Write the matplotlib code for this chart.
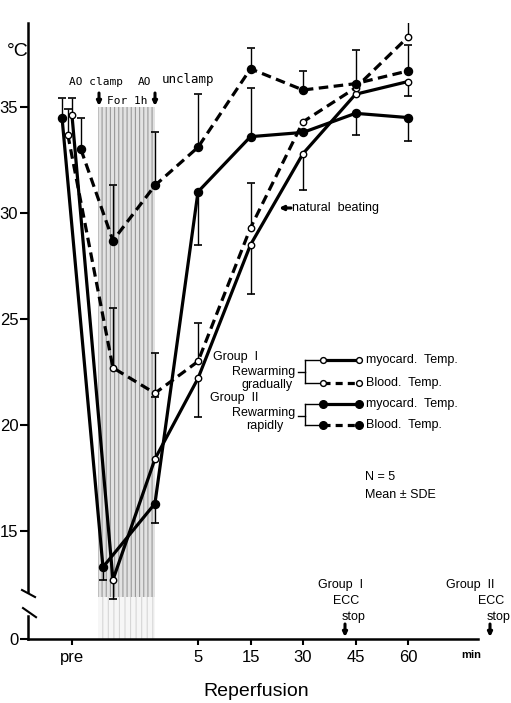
import matplotlib.pyplot as plt
import numpy as np
from matplotlib.lines import Line2D
from matplotlib.patches import Rectangle

W, H = 511, 703
plt.rcParams['font.family'] = ['Liberation Sans', 'DejaVu Sans']
plt.rcParams['hatch.linewidth'] = 0.8

# time points: pre, clamp (mid), clamp (end), then reperfusion 5..60 min
x_pos = np.array([0.6, 1.38, 2.18, 3, 4, 5, 6, 7])
tick_pos = [0.6, 3, 4, 5, 6, 7]
tick_labels = ['pre', '5', '15', '30', '45', '60']

# temperatures (°C)
g1_myo = [34.6, 12.7, 18.4, 22.2, 28.5, 32.8, 35.6, 36.2]
g1_blood = [33.7, 22.7, 21.5, 23.0, 29.3, 34.3, 35.9, 38.3]
g2_myo = [34.5, 13.3, 16.3, 31.0, 33.6, 33.8, 34.7, 34.5]
g2_blood = [33.0, 28.7, 31.3, 33.1, 36.8, 35.8, 36.1, 36.7]

# SDE, only one side drawn per point
g1_myo_up = [0.8, 0, 2.9, 0, 0, 0, 0, 0]
g1_myo_dn = [0, 0.9, 0, 1.8, 2.3, 1.7, 0, 0.7]
g1_blood_up = [1.2, 2.8, 1.9, 1.8, 2.1, 0, 0, 1.2]
g1_blood_dn = [0, 0, 0, 0, 0, 0, 0, 0]
g2_myo_up = [0.9, 0, 0, 0, 2.3, 0, 0, 0]
g2_myo_dn = [0, 0.6, 0.9, 2.5, 0, 0, 1.0, 1.1]
g2_blood_up = [1.5, 2.6, 2.5, 2.5, 1.0, 0.9, 1.6, 1.2]
g2_blood_dn = [0, 0, 0, 0, 0, 0, 0, 0]

# axis layout
y_zero = 9.91      # where the broken axis shows 0
y_top = 38.96


def fx(px):
    return px / W


def fy(py):
    return 1 - py / H


fig = plt.figure(figsize=(W / 100, H / 100), dpi=100)
ax = fig.add_axes([fx(28), fy(639), 450 / W, 616 / H])
ax.set_xlim(-0.238, 8.333)
ax.set_ylim(y_zero, y_top)

# clamp period shading
plt.rcParams['hatch.color'] = '#d6d6d6'
ax.add_patch(Rectangle((1.1, y_zero), 1.08, 11.9 - y_zero, facecolor='#f6f6f6',
                       hatch='|||', lw=0, zorder=0))
plt.rcParams['hatch.color'] = '#9a9a9a'
ax.add_patch(Rectangle((1.1, 11.9), 1.08, 35 - 11.9, facecolor='#e2e2e2',
                       hatch='||||', lw=0, zorder=0))

series = [
    (g1_myo, g1_myo_up, g1_myo_dn, 'white', '-', [0, 0, 0, 0, 0, 0, 0, 0]),
    (g1_blood, g1_blood_up, g1_blood_dn, 'white', '--', [-0.08, 0, 0, 0, 0, 0, 0, 0]),
    (g2_myo, g2_myo_up, g2_myo_dn, 'black', '-', [-0.19, -0.19, 0, 0, 0, 0, 0, 0]),
    (g2_blood, g2_blood_up, g2_blood_dn, 'black', '--', [0.17, 0, 0, 0, 0, 0, 0, 0]),
]

for vals, up, dn, face, ls, shift in series:
    xs = x_pos + np.array(shift)
    vals = np.array(vals)
    up = np.array(up)
    dn = np.array(dn)
    m = up > 0
    ax.vlines(xs[m], vals[m], vals[m] + up[m], color='k', lw=1.0, zorder=2)
    ax.plot(xs[m], vals[m] + up[m], ls='none', marker='_', ms=6, mew=1.2, color='k', zorder=2)
    m = dn > 0
    ax.vlines(xs[m], vals[m] - dn[m], vals[m], color='k', lw=1.0, zorder=2)
    ax.plot(xs[m], vals[m] - dn[m], ls='none', marker='_', ms=6, mew=1.2, color='k', zorder=2)
    line, = ax.plot(xs, vals, color='k', lw=2.3, ls=ls, zorder=3)
    if ls == '--':
        line.set_dashes((3, 1.7))
    ms = 4.6 if face == 'white' else 5.8
    ax.plot(xs, vals, ls='none', marker='o', ms=ms, mfc=face, mec='k', mew=1.0, zorder=4)

# axes
for s in ['top', 'right', 'left']:
    ax.spines[s].set_visible(False)
ax.spines['bottom'].set_linewidth(1.8)
ax.set_yticks([y_zero, 15, 20, 25, 30, 35], ['0', '15', '20', '25', '30', '35'])
ax.set_xticks(tick_pos, tick_labels)
ax.tick_params(axis='y', length=6, width=1.5, direction='out', pad=1, labelsize=12)
ax.tick_params(axis='x', length=4, width=1.5, direction='out', pad=4, labelsize=12)

# broken y axis
yt = ax.get_yaxis_transform()
ax.plot([0, 0], [12.12, y_top], color='k', lw=1.8, transform=yt, clip_on=False)
ax.plot([0, 0], [y_zero, 10.99], color='k', lw=1.8, transform=yt, clip_on=False)
ax.plot([-0.0133, 0.0156], [12.22, 11.89], color='k', lw=1.5, transform=yt, clip_on=False)
ax.plot([-0.0111, 0.0178], [11.37, 10.94], color='k', lw=1.5, transform=yt, clip_on=False)

# labels
fig.text(fx(18), fy(52), '°C', fontsize=14, ha='center', va='center')
fig.text(fx(471), fy(655), 'min', fontsize=8, ha='center', va='center', weight='bold')
fig.text(fx(256), fy(692), 'Reperfusion', fontsize=14, ha='center', va='center')

mono = 'DejaVu Sans Mono'
fig.text(fx(96), fy(82), 'AO clamp', family=mono, fontsize=8, ha='center', va='center')
fig.text(fx(145), fy(82), 'AO', family=mono, fontsize=8, ha='center', va='center')
fig.text(fx(188), fy(79), 'unclamp', family=mono, fontsize=9, ha='center', va='center')
fig.text(fx(127), fy(101), 'For 1h', family=mono, fontsize=8, ha='center', va='center')

arrow = dict(arrowstyle='-|>', color='k', lw=2.2, mutation_scale=6, shrinkA=0, shrinkB=0)
for x0 in [99, 155]:
    ax.annotate('', xy=(fx(x0), fy(106)), xytext=(fx(x0), fy(93)),
                xycoords='figure fraction', arrowprops=arrow)
for x0 in [345, 490]:
    ax.annotate('', xy=(fx(x0), fy(637)), xytext=(fx(x0), fy(624)),
                xycoords='figure fraction', arrowprops=arrow)
ax.annotate('', xy=(fx(279), fy(208)), xytext=(fx(291), fy(208)),
            xycoords='figure fraction', arrowprops=arrow)
fig.text(fx(292), fy(208), 'natural  beating', fontsize=9, ha='left', va='center')

fig.text(fx(340), fy(585), 'Group  I', fontsize=9, ha='center', va='center')
fig.text(fx(346), fy(601), 'ECC', fontsize=9, ha='center', va='center')
fig.text(fx(354), fy(617), 'stop', fontsize=9, ha='center', va='center')
fig.text(fx(470), fy(585), 'Group  II', fontsize=9, ha='center', va='center')
fig.text(fx(491), fy(601), 'ECC', fontsize=9, ha='center', va='center')
fig.text(fx(499), fy(617), 'stop', fontsize=9, ha='center', va='center')

fig.text(fx(365), fy(477), 'N = 5', fontsize=9, ha='left', va='center')
fig.text(fx(365), fy(495), 'Mean ± SDE', fontsize=9, ha='left', va='center')

# legend with brackets
fig.text(fx(213), fy(357), 'Group  I', fontsize=9, ha='left', va='center')
fig.text(fx(295), fy(372), 'Rewarming', fontsize=9, ha='right', va='center')
fig.text(fx(293), fy(385), 'gradually', fontsize=9, ha='right', va='center')
fig.text(fx(210), fy(398), 'Group  II', fontsize=9, ha='left', va='center')
fig.text(fx(295), fy(413), 'Rewarming', fontsize=9, ha='right', va='center')
fig.text(fx(283), fy(426), 'rapidly', fontsize=9, ha='right', va='center')

rows = [(360, 'white', '-', 'myocard.  Temp.'), (383, 'white', '--', 'Blood.  Temp.'),
        (404, 'black', '-', 'myocard.  Temp.'), (425, 'black', '--', 'Blood.  Temp.')]
for py, face, ls, label in rows:
    fig.add_artist(Line2D([fx(305), fx(320)], [fy(py), fy(py)], color='k', lw=1.0))
    ln = Line2D([fx(323), fx(359)], [fy(py), fy(py)], color='k', lw=2.3, ls=ls)
    if ls == '--':
        ln.set_dashes((2.2, 1.6))
    fig.add_artist(ln)
    ms = 4.2 if face == 'white' else 5.5
    fig.add_artist(Line2D([fx(323), fx(359)], [fy(py), fy(py)], ls='none', marker='o',
                          ms=ms, mfc=face, mec='k', mew=1.0))
    fig.text(fx(366), fy(py), label, fontsize=9, ha='left', va='center')
for top, bot in [(360, 383), (404, 425)]:
    fig.add_artist(Line2D([fx(305), fx(305)], [fy(top), fy(bot)], color='k', lw=1.0))
    mid = (top + bot) / 2 + 1
    fig.add_artist(Line2D([fx(298), fx(305)], [fy(mid), fy(mid)], color='k', lw=1.0))

plt.savefig('out.png', dpi=100)
plt.close()
